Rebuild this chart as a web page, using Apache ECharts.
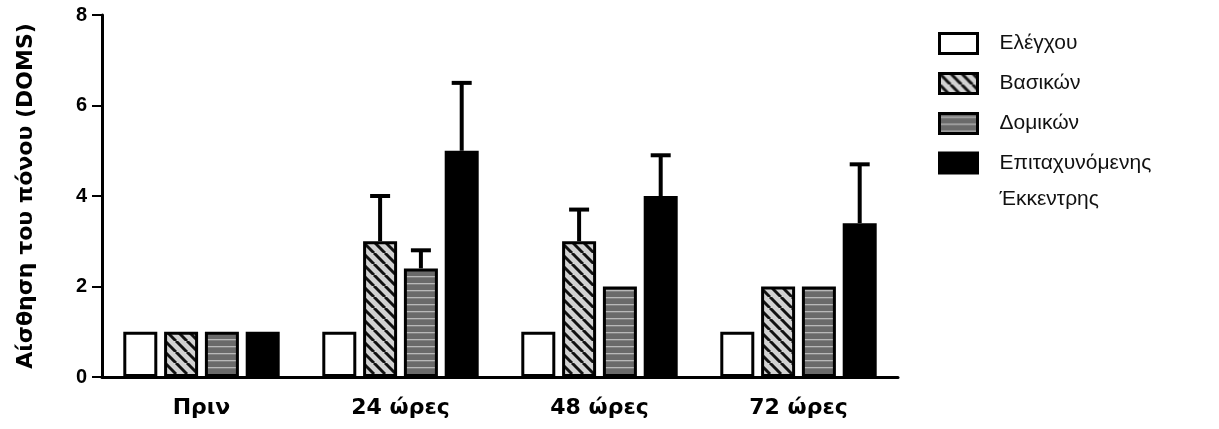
<!DOCTYPE html>
<html>
<head>
<meta charset="utf-8">
<script src="https://cdn.jsdelivr.net/npm/echarts@6/dist/echarts.min.js"></script>
<style>
  html, body { margin: 0; padding: 0; background: #ffffff; }
  #chart { width: 1219px; height: 429px; }
</style>
</head>
<body>
<div id="chart"></div>
<script>
// Time points after exercise
const categories = ['Πριν', '24 ώρες', '48 ώρες', '72 ώρες'];

// Group names
const groupNames = ['Ελέγχου', 'Βασικών', 'Δομικών', 'Επιταχυνόμενης Έκκεντρης'];

// Mean DOMS per group
const controlMeans  = [1, 1, 1, 1];
const basicMeans    = [1, 3, 3, 2];
const structMeans   = [1, 2.4, 2, 2];
const eccentricMeans = [1, 5, 4, 3.4];

// Upper error (SD) per group
const controlErr   = [0, 0, 0, 0];
const basicErr     = [0, 1.0, 0.7, 0];
const structErr    = [0, 0.4, 0, 0];
const eccentricErr = [0, 1.5, 0.9, 1.3];

const yTicks = [0, 2, 4, 6, 8];

// Fill patterns
function diagonalPattern() {
  const s = 11;
  const c = document.createElement('canvas');
  c.width = s; c.height = s;
  const g = c.getContext('2d');
  g.fillStyle = '#d2d2d2';
  g.fillRect(0, 0, s, s);
  g.strokeStyle = '#111';
  g.lineWidth = 3;
  for (let k = -1; k <= 1; k++) {
    g.beginPath();
    g.moveTo(k * s, 0);
    g.lineTo(k * s + s, s);
    g.stroke();
  }
  return c;
}
function horizontalPattern() {
  const c = document.createElement('canvas');
  c.width = 8; c.height = 7;
  const g = c.getContext('2d');
  g.fillStyle = '#6a6a6a';
  g.fillRect(0, 0, 8, 7);
  g.fillStyle = '#b8b8b8';
  g.fillRect(0, 3, 8, 1.3);
  return c;
}

const fills = [
  '#ffffff',
  { image: diagonalPattern(), repeat: 'repeat' },
  { image: horizontalPattern(), repeat: 'repeat' },
  '#000000'
];
const means = [controlMeans, basicMeans, structMeans, eccentricMeans];
const errs = [controlErr, basicErr, structErr, eccentricErr];

const BAR_W = 34;
const BAR_GAP = 0.2;
const STEP = BAR_W * (1 + BAR_GAP);

const barSeries = groupNames.map((name, i) => ({
  name: name,
  type: 'bar',
  data: means[i],
  barWidth: BAR_W,
  barGap: (BAR_GAP * 100) + '%',
  itemStyle: { color: fills[i], borderColor: '#000', borderWidth: 3 },
  z: 2
}));

const errorSeries = groupNames.map((name, i) => ({
  type: 'custom',
  name: name + ' SD',
  z: 3,
  data: means[i].map((m, j) => [j, m, m + errs[i][j], errs[i][j]]),
  encode: { x: 0, y: 2 },
  renderItem: function (params, api) {
    if (api.value(3) <= 0) return null;
    const off = (i - 1.5) * STEP;
    const base = api.coord([api.value(0), api.value(1)]);
    const top = api.coord([api.value(0), api.value(2)]);
    const x = base[0] + off;
    return {
      type: 'group',
      children: [
        { type: 'line', shape: { x1: x, y1: base[1], x2: x, y2: top[1] },
          style: { stroke: '#000', lineWidth: 4 } },
        { type: 'line', shape: { x1: x - 10, y1: top[1], x2: x + 10, y2: top[1] },
          style: { stroke: '#000', lineWidth: 4 } }
      ]
    };
  }
}));

const legendText = { fontFamily: 'Liberation Sans, Arial, sans-serif', fontSize: 21, color: '#111' };
const boldFont = 'DejaVu Sans, Verdana, sans-serif';

const chart = echarts.init(document.getElementById('chart'));
chart.setOption({
  backgroundColor: '#ffffff',
  animation: false,
  grid: { left: 102, right: 321, top: 15, bottom: 52 },
  legend: [
    {
      orient: 'vertical', left: 938, top: 32, padding: 0,
      itemWidth: 38, itemHeight: 20, itemGap: 17,
      icon: 'rect',
      itemStyle: { borderColor: '#000', borderWidth: 3 },
      textStyle: Object.assign({ lineHeight: 20, padding: [0, 0, 0, 17] }, legendText),
      data: groupNames.slice(0, 3)
    },
    {
      orient: 'vertical', left: 938, top: 109, padding: 0,
      itemWidth: 38, itemHeight: 20,
      icon: 'rect',
      itemStyle: { borderColor: '#000', borderWidth: 3 },
      textStyle: Object.assign({ lineHeight: 36, padding: [0, 0, 0, 17] }, legendText),
      // leading blank line keeps the first line level with the icon
      formatter: n => '\n' + n.replace(' ', '\n'),
      data: groupNames.slice(3)
    }
  ],
  xAxis: {
    type: 'category',
    data: categories,
    axisLine: { lineStyle: { color: '#000', width: 3 } },
    axisTick: { alignWithLabel: true, length: 10, lineStyle: { color: '#000', width: 2 } },
    axisLabel: {
      margin: 20, color: '#000', fontSize: 22, fontWeight: 'bold',
      fontFamily: boldFont
    }
  },
  yAxis: {
    type: 'value',
    min: yTicks[0], max: yTicks[yTicks.length - 1], interval: 2,
    name: 'Αίσθηση του πόνου (DOMS)',
    nameLocation: 'middle',
    nameGap: 65,
    nameTextStyle: {
      color: '#000', fontSize: 22, fontWeight: 'bold',
      fontFamily: boldFont
    },
    splitLine: { show: false },
    axisLine: { show: true, lineStyle: { color: '#000', width: 3 } },
    axisTick: { show: true, length: 10, lineStyle: { color: '#000', width: 2 } },
    axisLabel: {
      margin: 15, color: '#000', fontSize: 20, fontWeight: 'bold',
      fontFamily: 'Liberation Sans, Arial, sans-serif'
    }
  },
  series: barSeries.concat(errorSeries)
});
</script>
</body>
</html>
